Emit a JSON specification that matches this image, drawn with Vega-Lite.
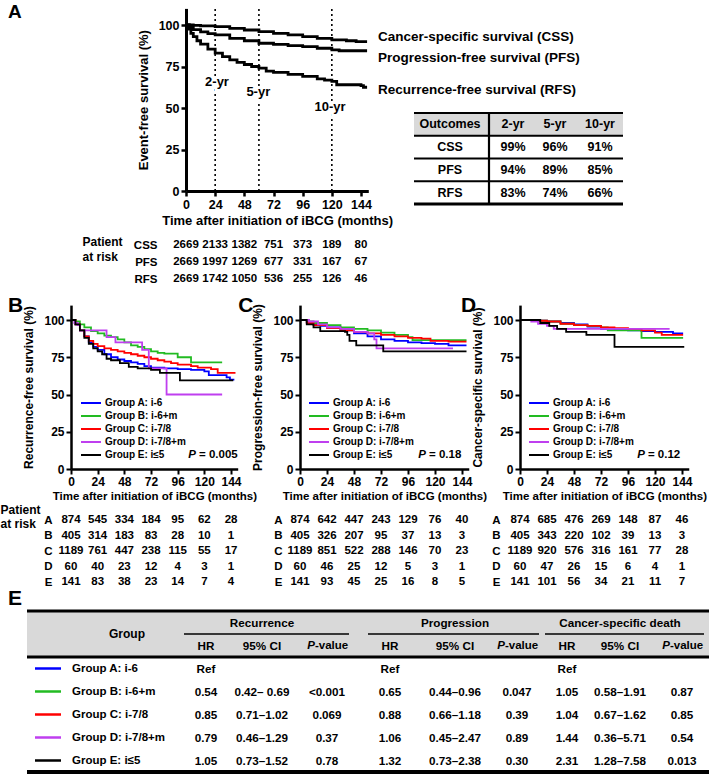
{
"$schema":"https://vega.github.io/schema/vega-lite/v6.json",
"width":709,"height":774,"autosize":{"type":"none"},"padding":0,"background":"white",
"config":{
 "view":{"stroke":null},
 "font":"Liberation Sans",
 "axis":{"labelFont":"Liberation Sans","titleFont":"Liberation Sans","labelFontWeight":"bold","titleFontWeight":"bold","labelColor":"black","titleColor":"black","domainColor":"black","tickColor":"black","grid":false,"labelOverlap":false,"labelFlush":false},
 "legend":{"labelFont":"Liberation Sans","labelFontWeight":"bold","labelColor":"black"},
 "text":{"font":"Liberation Sans","fontWeight":"bold","color":"black","fontSize":11.5},
 "rule":{"color":"black"}
},
"datasets":{
"km":[
{"p":"A","g":"CSS","m":0,"s":100},{"p":"A","g":"CSS","m":6,"s":99.8},{"p":"A","g":"CSS","m":12,"s":99.5},{"p":"A","g":"CSS","m":24,"s":99},{"p":"A","g":"CSS","m":36,"s":98},{"p":"A","g":"CSS","m":48,"s":97},{"p":"A","g":"CSS","m":60,"s":96},{"p":"A","g":"CSS","m":72,"s":95},{"p":"A","g":"CSS","m":84,"s":94},{"p":"A","g":"CSS","m":96,"s":93},{"p":"A","g":"CSS","m":108,"s":92},{"p":"A","g":"CSS","m":120,"s":91},{"p":"A","g":"CSS","m":132,"s":90.5},{"p":"A","g":"CSS","m":140,"s":90},{"p":"A","g":"CSS","m":149,"s":90},
{"p":"A","g":"PFS","m":0,"s":100},{"p":"A","g":"PFS","m":3,"s":98.5},{"p":"A","g":"PFS","m":6,"s":97.2},{"p":"A","g":"PFS","m":12,"s":95.8},{"p":"A","g":"PFS","m":18,"s":94.8},{"p":"A","g":"PFS","m":24,"s":94},{"p":"A","g":"PFS","m":36,"s":92},{"p":"A","g":"PFS","m":48,"s":90.5},{"p":"A","g":"PFS","m":60,"s":89},{"p":"A","g":"PFS","m":72,"s":88.3},{"p":"A","g":"PFS","m":84,"s":87.6},{"p":"A","g":"PFS","m":96,"s":87},{"p":"A","g":"PFS","m":108,"s":86},{"p":"A","g":"PFS","m":120,"s":85},{"p":"A","g":"PFS","m":126,"s":84.5},{"p":"A","g":"PFS","m":149,"s":84.5},
{"p":"A","g":"RFS","m":0,"s":100},{"p":"A","g":"RFS","m":2,"s":97.5},{"p":"A","g":"RFS","m":4,"s":95},{"p":"A","g":"RFS","m":6,"s":93},{"p":"A","g":"RFS","m":9,"s":90.5},{"p":"A","g":"RFS","m":12,"s":88.5},{"p":"A","g":"RFS","m":18,"s":85.5},{"p":"A","g":"RFS","m":24,"s":83},{"p":"A","g":"RFS","m":30,"s":81},{"p":"A","g":"RFS","m":36,"s":79},{"p":"A","g":"RFS","m":42,"s":77.5},{"p":"A","g":"RFS","m":48,"s":76.2},{"p":"A","g":"RFS","m":54,"s":75},{"p":"A","g":"RFS","m":60,"s":74},{"p":"A","g":"RFS","m":66,"s":72.2},{"p":"A","g":"RFS","m":72,"s":71.5},{"p":"A","g":"RFS","m":84,"s":70.2},{"p":"A","g":"RFS","m":96,"s":69},{"p":"A","g":"RFS","m":108,"s":67.5},{"p":"A","g":"RFS","m":114,"s":66.8},{"p":"A","g":"RFS","m":120,"s":66},{"p":"A","g":"RFS","m":124,"s":64},{"p":"A","g":"RFS","m":144,"s":63.5},{"p":"A","g":"RFS","m":146,"s":62.5},{"p":"A","g":"RFS","m":149,"s":62.5},

{"p":"B","g":"Group A: i-6","m":0,"s":100},{"p":"B","g":"Group A: i-6","m":4,"s":97},{"p":"B","g":"Group A: i-6","m":8,"s":93},{"p":"B","g":"Group A: i-6","m":12,"s":89},{"p":"B","g":"Group A: i-6","m":16,"s":85},{"p":"B","g":"Group A: i-6","m":20,"s":82},{"p":"B","g":"Group A: i-6","m":24,"s":80},{"p":"B","g":"Group A: i-6","m":30,"s":77},{"p":"B","g":"Group A: i-6","m":36,"s":75},{"p":"B","g":"Group A: i-6","m":42,"s":73.5},{"p":"B","g":"Group A: i-6","m":48,"s":72.5},{"p":"B","g":"Group A: i-6","m":54,"s":71.5},{"p":"B","g":"Group A: i-6","m":60,"s":70.5},{"p":"B","g":"Group A: i-6","m":66,"s":69},{"p":"B","g":"Group A: i-6","m":72,"s":68},{"p":"B","g":"Group A: i-6","m":84,"s":67.5},{"p":"B","g":"Group A: i-6","m":96,"s":67},{"p":"B","g":"Group A: i-6","m":108,"s":66.5},{"p":"B","g":"Group A: i-6","m":120,"s":65.5},{"p":"B","g":"Group A: i-6","m":124,"s":63},{"p":"B","g":"Group A: i-6","m":140,"s":61.5},{"p":"B","g":"Group A: i-6","m":143,"s":60},{"p":"B","g":"Group A: i-6","m":147,"s":60},
{"p":"B","g":"Group B: i-6+m","m":0,"s":100},{"p":"B","g":"Group B: i-6+m","m":4,"s":99},{"p":"B","g":"Group B: i-6+m","m":8,"s":97},{"p":"B","g":"Group B: i-6+m","m":12,"s":95},{"p":"B","g":"Group B: i-6+m","m":18,"s":92.5},{"p":"B","g":"Group B: i-6+m","m":24,"s":91},{"p":"B","g":"Group B: i-6+m","m":30,"s":89.5},{"p":"B","g":"Group B: i-6+m","m":36,"s":88.5},{"p":"B","g":"Group B: i-6+m","m":42,"s":87},{"p":"B","g":"Group B: i-6+m","m":48,"s":85},{"p":"B","g":"Group B: i-6+m","m":54,"s":83},{"p":"B","g":"Group B: i-6+m","m":60,"s":82},{"p":"B","g":"Group B: i-6+m","m":66,"s":80.5},{"p":"B","g":"Group B: i-6+m","m":72,"s":79},{"p":"B","g":"Group B: i-6+m","m":78,"s":78},{"p":"B","g":"Group B: i-6+m","m":84,"s":77.5},{"p":"B","g":"Group B: i-6+m","m":96,"s":75},{"p":"B","g":"Group B: i-6+m","m":108,"s":71.5},{"p":"B","g":"Group B: i-6+m","m":136,"s":71.5},
{"p":"B","g":"Group C: i-7/8","m":0,"s":100},{"p":"B","g":"Group C: i-7/8","m":4,"s":97},{"p":"B","g":"Group C: i-7/8","m":8,"s":93},{"p":"B","g":"Group C: i-7/8","m":12,"s":89},{"p":"B","g":"Group C: i-7/8","m":16,"s":86},{"p":"B","g":"Group C: i-7/8","m":20,"s":84},{"p":"B","g":"Group C: i-7/8","m":24,"s":82.5},{"p":"B","g":"Group C: i-7/8","m":30,"s":81},{"p":"B","g":"Group C: i-7/8","m":36,"s":80},{"p":"B","g":"Group C: i-7/8","m":42,"s":79},{"p":"B","g":"Group C: i-7/8","m":48,"s":78},{"p":"B","g":"Group C: i-7/8","m":54,"s":77},{"p":"B","g":"Group C: i-7/8","m":60,"s":76},{"p":"B","g":"Group C: i-7/8","m":66,"s":75},{"p":"B","g":"Group C: i-7/8","m":72,"s":74},{"p":"B","g":"Group C: i-7/8","m":78,"s":73},{"p":"B","g":"Group C: i-7/8","m":84,"s":72},{"p":"B","g":"Group C: i-7/8","m":90,"s":71},{"p":"B","g":"Group C: i-7/8","m":96,"s":70},{"p":"B","g":"Group C: i-7/8","m":108,"s":69},{"p":"B","g":"Group C: i-7/8","m":114,"s":68},{"p":"B","g":"Group C: i-7/8","m":126,"s":67},{"p":"B","g":"Group C: i-7/8","m":132,"s":64.5},{"p":"B","g":"Group C: i-7/8","m":148,"s":64.5},
{"p":"B","g":"Group D: i-7/8+m","m":0,"s":100},{"p":"B","g":"Group D: i-7/8+m","m":3,"s":98},{"p":"B","g":"Group D: i-7/8+m","m":6,"s":96.5},{"p":"B","g":"Group D: i-7/8+m","m":8,"s":93},{"p":"B","g":"Group D: i-7/8+m","m":32,"s":88.5},{"p":"B","g":"Group D: i-7/8+m","m":40,"s":85},{"p":"B","g":"Group D: i-7/8+m","m":64,"s":80},{"p":"B","g":"Group D: i-7/8+m","m":70,"s":67.5},{"p":"B","g":"Group D: i-7/8+m","m":86,"s":50},{"p":"B","g":"Group D: i-7/8+m","m":136,"s":50},
{"p":"B","g":"Group E: i≤5","m":0,"s":100},{"p":"B","g":"Group E: i≤5","m":4,"s":97},{"p":"B","g":"Group E: i≤5","m":8,"s":93},{"p":"B","g":"Group E: i≤5","m":12,"s":88},{"p":"B","g":"Group E: i≤5","m":16,"s":84},{"p":"B","g":"Group E: i≤5","m":20,"s":81},{"p":"B","g":"Group E: i≤5","m":24,"s":79},{"p":"B","g":"Group E: i≤5","m":28,"s":77},{"p":"B","g":"Group E: i≤5","m":32,"s":74},{"p":"B","g":"Group E: i≤5","m":36,"s":73},{"p":"B","g":"Group E: i≤5","m":44,"s":71},{"p":"B","g":"Group E: i≤5","m":52,"s":68.5},{"p":"B","g":"Group E: i≤5","m":60,"s":67.5},{"p":"B","g":"Group E: i≤5","m":72,"s":66.5},{"p":"B","g":"Group E: i≤5","m":80,"s":64.5},{"p":"B","g":"Group E: i≤5","m":98,"s":59.5},{"p":"B","g":"Group E: i≤5","m":146,"s":59.5},

{"p":"C","g":"Group A: i-6","m":0,"s":100},{"p":"C","g":"Group A: i-6","m":6,"s":98.5},{"p":"C","g":"Group A: i-6","m":12,"s":97},{"p":"C","g":"Group A: i-6","m":18,"s":96},{"p":"C","g":"Group A: i-6","m":24,"s":95},{"p":"C","g":"Group A: i-6","m":36,"s":93},{"p":"C","g":"Group A: i-6","m":48,"s":91},{"p":"C","g":"Group A: i-6","m":60,"s":89},{"p":"C","g":"Group A: i-6","m":72,"s":87},{"p":"C","g":"Group A: i-6","m":84,"s":86},{"p":"C","g":"Group A: i-6","m":96,"s":85},{"p":"C","g":"Group A: i-6","m":108,"s":84.5},{"p":"C","g":"Group A: i-6","m":120,"s":84},{"p":"C","g":"Group A: i-6","m":132,"s":83},{"p":"C","g":"Group A: i-6","m":148,"s":83},
{"p":"C","g":"Group B: i-6+m","m":0,"s":100},{"p":"C","g":"Group B: i-6+m","m":6,"s":99},{"p":"C","g":"Group B: i-6+m","m":12,"s":98},{"p":"C","g":"Group B: i-6+m","m":24,"s":96.5},{"p":"C","g":"Group B: i-6+m","m":36,"s":95},{"p":"C","g":"Group B: i-6+m","m":48,"s":94},{"p":"C","g":"Group B: i-6+m","m":60,"s":93},{"p":"C","g":"Group B: i-6+m","m":72,"s":91.5},{"p":"C","g":"Group B: i-6+m","m":84,"s":90},{"p":"C","g":"Group B: i-6+m","m":96,"s":88.5},{"p":"C","g":"Group B: i-6+m","m":100,"s":86.5},{"p":"C","g":"Group B: i-6+m","m":148,"s":86.5},
{"p":"C","g":"Group C: i-7/8","m":0,"s":100},{"p":"C","g":"Group C: i-7/8","m":6,"s":98},{"p":"C","g":"Group C: i-7/8","m":12,"s":96.5},{"p":"C","g":"Group C: i-7/8","m":24,"s":94.5},{"p":"C","g":"Group C: i-7/8","m":36,"s":93},{"p":"C","g":"Group C: i-7/8","m":48,"s":92},{"p":"C","g":"Group C: i-7/8","m":60,"s":91},{"p":"C","g":"Group C: i-7/8","m":72,"s":90},{"p":"C","g":"Group C: i-7/8","m":84,"s":89},{"p":"C","g":"Group C: i-7/8","m":96,"s":88},{"p":"C","g":"Group C: i-7/8","m":108,"s":87.5},{"p":"C","g":"Group C: i-7/8","m":116,"s":86},{"p":"C","g":"Group C: i-7/8","m":132,"s":85.5},{"p":"C","g":"Group C: i-7/8","m":148,"s":85.5},
{"p":"C","g":"Group D: i-7/8+m","m":0,"s":100},{"p":"C","g":"Group D: i-7/8+m","m":8,"s":99},{"p":"C","g":"Group D: i-7/8+m","m":16,"s":97},{"p":"C","g":"Group D: i-7/8+m","m":24,"s":95},{"p":"C","g":"Group D: i-7/8+m","m":36,"s":94},{"p":"C","g":"Group D: i-7/8+m","m":48,"s":92},{"p":"C","g":"Group D: i-7/8+m","m":60,"s":91},{"p":"C","g":"Group D: i-7/8+m","m":66,"s":87},{"p":"C","g":"Group D: i-7/8+m","m":68,"s":81},{"p":"C","g":"Group D: i-7/8+m","m":136,"s":81},
{"p":"C","g":"Group E: i≤5","m":0,"s":100},{"p":"C","g":"Group E: i≤5","m":6,"s":97},{"p":"C","g":"Group E: i≤5","m":12,"s":95},{"p":"C","g":"Group E: i≤5","m":18,"s":92.5},{"p":"C","g":"Group E: i≤5","m":40,"s":92},{"p":"C","g":"Group E: i≤5","m":42,"s":90},{"p":"C","g":"Group E: i≤5","m":44,"s":86},{"p":"C","g":"Group E: i≤5","m":50,"s":83},{"p":"C","g":"Group E: i≤5","m":74,"s":79},{"p":"C","g":"Group E: i≤5","m":148,"s":79},

{"p":"D","g":"Group A: i-6","m":0,"s":100},{"p":"D","g":"Group A: i-6","m":12,"s":99.5},{"p":"D","g":"Group A: i-6","m":24,"s":99},{"p":"D","g":"Group A: i-6","m":36,"s":98},{"p":"D","g":"Group A: i-6","m":48,"s":97},{"p":"D","g":"Group A: i-6","m":60,"s":95.5},{"p":"D","g":"Group A: i-6","m":72,"s":94},{"p":"D","g":"Group A: i-6","m":84,"s":93.5},{"p":"D","g":"Group A: i-6","m":96,"s":93},{"p":"D","g":"Group A: i-6","m":108,"s":92.5},{"p":"D","g":"Group A: i-6","m":120,"s":92},{"p":"D","g":"Group A: i-6","m":136,"s":91},{"p":"D","g":"Group A: i-6","m":145,"s":91},
{"p":"D","g":"Group B: i-6+m","m":0,"s":100},{"p":"D","g":"Group B: i-6+m","m":12,"s":99.5},{"p":"D","g":"Group B: i-6+m","m":24,"s":99},{"p":"D","g":"Group B: i-6+m","m":36,"s":97.5},{"p":"D","g":"Group B: i-6+m","m":48,"s":96.5},{"p":"D","g":"Group B: i-6+m","m":60,"s":96},{"p":"D","g":"Group B: i-6+m","m":72,"s":95},{"p":"D","g":"Group B: i-6+m","m":78,"s":93},{"p":"D","g":"Group B: i-6+m","m":108,"s":88},{"p":"D","g":"Group B: i-6+m","m":145,"s":88},
{"p":"D","g":"Group C: i-7/8","m":0,"s":100},{"p":"D","g":"Group C: i-7/8","m":12,"s":99.5},{"p":"D","g":"Group C: i-7/8","m":24,"s":99},{"p":"D","g":"Group C: i-7/8","m":36,"s":97.5},{"p":"D","g":"Group C: i-7/8","m":48,"s":96.5},{"p":"D","g":"Group C: i-7/8","m":60,"s":96},{"p":"D","g":"Group C: i-7/8","m":72,"s":95},{"p":"D","g":"Group C: i-7/8","m":84,"s":94.5},{"p":"D","g":"Group C: i-7/8","m":96,"s":94},{"p":"D","g":"Group C: i-7/8","m":108,"s":93},{"p":"D","g":"Group C: i-7/8","m":120,"s":91.5},{"p":"D","g":"Group C: i-7/8","m":126,"s":90},{"p":"D","g":"Group C: i-7/8","m":145,"s":90},
{"p":"D","g":"Group D: i-7/8+m","m":0,"s":100},{"p":"D","g":"Group D: i-7/8+m","m":10,"s":99},{"p":"D","g":"Group D: i-7/8+m","m":16,"s":97.5},{"p":"D","g":"Group D: i-7/8+m","m":24,"s":96},{"p":"D","g":"Group D: i-7/8+m","m":30,"s":94},{"p":"D","g":"Group D: i-7/8+m","m":133,"s":94},
{"p":"D","g":"Group E: i≤5","m":0,"s":100},{"p":"D","g":"Group E: i≤5","m":18,"s":98},{"p":"D","g":"Group E: i≤5","m":26,"s":96},{"p":"D","g":"Group E: i≤5","m":33,"s":94},{"p":"D","g":"Group E: i≤5","m":41,"s":92},{"p":"D","g":"Group E: i≤5","m":59,"s":90},{"p":"D","g":"Group E: i≤5","m":84,"s":82},{"p":"D","g":"Group E: i≤5","m":146,"s":82}
],
"risk":[
{"p":"A","r":"CSS","m":0,"n":2669},{"p":"A","r":"CSS","m":24,"n":2133},{"p":"A","r":"CSS","m":48,"n":1382},{"p":"A","r":"CSS","m":72,"n":751},{"p":"A","r":"CSS","m":96,"n":373},{"p":"A","r":"CSS","m":120,"n":189},{"p":"A","r":"CSS","m":144,"n":80},
{"p":"A","r":"PFS","m":0,"n":2669},{"p":"A","r":"PFS","m":24,"n":1997},{"p":"A","r":"PFS","m":48,"n":1269},{"p":"A","r":"PFS","m":72,"n":677},{"p":"A","r":"PFS","m":96,"n":331},{"p":"A","r":"PFS","m":120,"n":167},{"p":"A","r":"PFS","m":144,"n":67},
{"p":"A","r":"RFS","m":0,"n":2669},{"p":"A","r":"RFS","m":24,"n":1742},{"p":"A","r":"RFS","m":48,"n":1050},{"p":"A","r":"RFS","m":72,"n":536},{"p":"A","r":"RFS","m":96,"n":255},{"p":"A","r":"RFS","m":120,"n":126},{"p":"A","r":"RFS","m":144,"n":46},
{"p":"B","r":"A","m":0,"n":874},{"p":"B","r":"A","m":24,"n":545},{"p":"B","r":"A","m":48,"n":334},{"p":"B","r":"A","m":72,"n":184},{"p":"B","r":"A","m":96,"n":95},{"p":"B","r":"A","m":120,"n":62},{"p":"B","r":"A","m":144,"n":28},
{"p":"B","r":"B","m":0,"n":405},{"p":"B","r":"B","m":24,"n":314},{"p":"B","r":"B","m":48,"n":183},{"p":"B","r":"B","m":72,"n":83},{"p":"B","r":"B","m":96,"n":28},{"p":"B","r":"B","m":120,"n":10},{"p":"B","r":"B","m":144,"n":1},
{"p":"B","r":"C","m":0,"n":1189},{"p":"B","r":"C","m":24,"n":761},{"p":"B","r":"C","m":48,"n":447},{"p":"B","r":"C","m":72,"n":238},{"p":"B","r":"C","m":96,"n":115},{"p":"B","r":"C","m":120,"n":55},{"p":"B","r":"C","m":144,"n":17},
{"p":"B","r":"D","m":0,"n":60},{"p":"B","r":"D","m":24,"n":40},{"p":"B","r":"D","m":48,"n":23},{"p":"B","r":"D","m":72,"n":12},{"p":"B","r":"D","m":96,"n":4},{"p":"B","r":"D","m":120,"n":3},{"p":"B","r":"D","m":144,"n":1},
{"p":"B","r":"E","m":0,"n":141},{"p":"B","r":"E","m":24,"n":83},{"p":"B","r":"E","m":48,"n":38},{"p":"B","r":"E","m":72,"n":23},{"p":"B","r":"E","m":96,"n":14},{"p":"B","r":"E","m":120,"n":7},{"p":"B","r":"E","m":144,"n":4},
{"p":"C","r":"A","m":0,"n":874},{"p":"C","r":"A","m":24,"n":642},{"p":"C","r":"A","m":48,"n":447},{"p":"C","r":"A","m":72,"n":243},{"p":"C","r":"A","m":96,"n":129},{"p":"C","r":"A","m":120,"n":76},{"p":"C","r":"A","m":144,"n":40},
{"p":"C","r":"B","m":0,"n":405},{"p":"C","r":"B","m":24,"n":326},{"p":"C","r":"B","m":48,"n":207},{"p":"C","r":"B","m":72,"n":95},{"p":"C","r":"B","m":96,"n":37},{"p":"C","r":"B","m":120,"n":13},{"p":"C","r":"B","m":144,"n":3},
{"p":"C","r":"C","m":0,"n":1189},{"p":"C","r":"C","m":24,"n":851},{"p":"C","r":"C","m":48,"n":522},{"p":"C","r":"C","m":72,"n":288},{"p":"C","r":"C","m":96,"n":146},{"p":"C","r":"C","m":120,"n":70},{"p":"C","r":"C","m":144,"n":23},
{"p":"C","r":"D","m":0,"n":60},{"p":"C","r":"D","m":24,"n":46},{"p":"C","r":"D","m":48,"n":25},{"p":"C","r":"D","m":72,"n":12},{"p":"C","r":"D","m":96,"n":5},{"p":"C","r":"D","m":120,"n":3},{"p":"C","r":"D","m":144,"n":1},
{"p":"C","r":"E","m":0,"n":141},{"p":"C","r":"E","m":24,"n":93},{"p":"C","r":"E","m":48,"n":45},{"p":"C","r":"E","m":72,"n":25},{"p":"C","r":"E","m":96,"n":16},{"p":"C","r":"E","m":120,"n":8},{"p":"C","r":"E","m":144,"n":5},
{"p":"D","r":"A","m":0,"n":874},{"p":"D","r":"A","m":24,"n":685},{"p":"D","r":"A","m":48,"n":476},{"p":"D","r":"A","m":72,"n":269},{"p":"D","r":"A","m":96,"n":148},{"p":"D","r":"A","m":120,"n":87},{"p":"D","r":"A","m":144,"n":46},
{"p":"D","r":"B","m":0,"n":405},{"p":"D","r":"B","m":24,"n":343},{"p":"D","r":"B","m":48,"n":220},{"p":"D","r":"B","m":72,"n":102},{"p":"D","r":"B","m":96,"n":39},{"p":"D","r":"B","m":120,"n":13},{"p":"D","r":"B","m":144,"n":3},
{"p":"D","r":"C","m":0,"n":1189},{"p":"D","r":"C","m":24,"n":920},{"p":"D","r":"C","m":48,"n":576},{"p":"D","r":"C","m":72,"n":316},{"p":"D","r":"C","m":96,"n":161},{"p":"D","r":"C","m":120,"n":77},{"p":"D","r":"C","m":144,"n":28},
{"p":"D","r":"D","m":0,"n":60},{"p":"D","r":"D","m":24,"n":47},{"p":"D","r":"D","m":48,"n":26},{"p":"D","r":"D","m":72,"n":15},{"p":"D","r":"D","m":96,"n":6},{"p":"D","r":"D","m":120,"n":4},{"p":"D","r":"D","m":144,"n":1},
{"p":"D","r":"E","m":0,"n":141},{"p":"D","r":"E","m":24,"n":101},{"p":"D","r":"E","m":48,"n":56},{"p":"D","r":"E","m":72,"n":34},{"p":"D","r":"E","m":96,"n":21},{"p":"D","r":"E","m":120,"n":11},{"p":"D","r":"E","m":144,"n":7}
],
"ta":[
{"r":"Outcomes","c":0,"v":"Outcomes"},{"r":"Outcomes","c":1,"v":"2-yr"},{"r":"Outcomes","c":2,"v":"5-yr"},{"r":"Outcomes","c":3,"v":"10-yr"},
{"r":"CSS","c":0,"v":"CSS"},{"r":"CSS","c":1,"v":"99%"},{"r":"CSS","c":2,"v":"96%"},{"r":"CSS","c":3,"v":"91%"},
{"r":"PFS","c":0,"v":"PFS"},{"r":"PFS","c":1,"v":"94%"},{"r":"PFS","c":2,"v":"89%"},{"r":"PFS","c":3,"v":"85%"},
{"r":"RFS","c":0,"v":"RFS"},{"r":"RFS","c":1,"v":"83%"},{"r":"RFS","c":2,"v":"74%"},{"r":"RFS","c":3,"v":"66%"}
],
"te":[
{"r":"h1","c":5,"v":"Recurrence"},{"r":"h1","c":8,"v":"Progression"},{"r":"h1","c":11,"v":"Cancer-specific death"},
{"r":"h2","c":4,"v":"HR"},{"r":"h2","c":5,"v":"95% CI"},{"r":"h2","c":7,"v":"HR"},{"r":"h2","c":8,"v":"95% CI"},{"r":"h2","c":10,"v":"HR"},{"r":"h2","c":11,"v":"95% CI"},
{"r":"A","c":4,"v":"Ref"},{"r":"A","c":7,"v":"Ref"},{"r":"A","c":10,"v":"Ref"},
{"r":"B","c":4,"v":"0.54"},{"r":"B","c":5,"v":"0.42– 0.69"},{"r":"B","c":6,"v":"<0.001"},{"r":"B","c":7,"v":"0.65"},{"r":"B","c":8,"v":"0.44–0.96"},{"r":"B","c":9,"v":"0.047"},{"r":"B","c":10,"v":"1.05"},{"r":"B","c":11,"v":"0.58–1.91"},{"r":"B","c":12,"v":"0.87"},
{"r":"C","c":4,"v":"0.85"},{"r":"C","c":5,"v":"0.71–1.02"},{"r":"C","c":6,"v":"0.069"},{"r":"C","c":7,"v":"0.88"},{"r":"C","c":8,"v":"0.66–1.18"},{"r":"C","c":9,"v":"0.39"},{"r":"C","c":10,"v":"1.04"},{"r":"C","c":11,"v":"0.67–1.62"},{"r":"C","c":12,"v":"0.85"},
{"r":"D","c":4,"v":"0.79"},{"r":"D","c":5,"v":"0.46–1.29"},{"r":"D","c":6,"v":"0.37"},{"r":"D","c":7,"v":"1.06"},{"r":"D","c":8,"v":"0.45–2.47"},{"r":"D","c":9,"v":"0.89"},{"r":"D","c":10,"v":"1.44"},{"r":"D","c":11,"v":"0.36–5.71"},{"r":"D","c":12,"v":"0.54"},
{"r":"E","c":4,"v":"1.05"},{"r":"E","c":5,"v":"0.73–1.52"},{"r":"E","c":6,"v":"0.78"},{"r":"E","c":7,"v":"1.32"},{"r":"E","c":8,"v":"0.73–2.38"},{"r":"E","c":9,"v":"0.30"},{"r":"E","c":10,"v":"2.31"},{"r":"E","c":11,"v":"1.28–7.58"},{"r":"E","c":12,"v":"0.013"}
],
"teg":[
{"r":"A","g":"Group A: i-6"},{"r":"B","g":"Group B: i-6+m"},{"r":"C","g":"Group C: i-7/8"},{"r":"D","g":"Group D: i-7/8+m"},{"r":"E","g":"Group E: i≤5"}
]
},
"layer":[
{"layer":[
 {"data":{"values":[{"m":24},{"m":60},{"m":120}]},
  "mark":{"type":"rule","strokeDash":[2,3],"strokeWidth":1.6},
  "encoding":{"x":{"field":"m","type":"quantitative","scale":{"domain":[0,150],"range":[186,368.3],"nice":false},"axis":null},
   "y":{"datum":0,"type":"quantitative","scale":{"domain":[0,110],"range":[191,8.4],"nice":false},"axis":null},
   "y2":{"datum":110}}},
 {"data":{"values":[{}]},"mark":{"type":"text","text":"Cancer-specific survival (CSS)","align":"left","fontSize":13.5},
  "encoding":{"x":{"datum":158,"type":"quantitative","axis":null},"y":{"datum":92.8,"type":"quantitative","axis":null}}},
 {"data":{"values":[{}]},"mark":{"type":"text","text":"Progression-free survival (PFS)","align":"left","fontSize":13.5},
  "encoding":{"x":{"datum":158,"type":"quantitative","axis":null},"y":{"datum":80,"type":"quantitative","axis":null}}},
 {"data":{"values":[{}]},"mark":{"type":"text","text":"Recurrence-free survival (RFS)","align":"left","fontSize":13.5},
  "encoding":{"x":{"datum":158,"type":"quantitative","axis":null},"y":{"datum":60.8,"type":"quantitative","axis":null}}},
 {"data":{"values":[{}]},"encoding":{"x":{"datum":25.5,"type":"quantitative","axis":null},"y":{"datum":65.7,"type":"quantitative","axis":null}},
  "layer":[{"mark":{"type":"text","text":"2-yr","fontSize":13,"color":"white","stroke":"white","strokeWidth":6}},{"mark":{"type":"text","text":"2-yr","fontSize":13}}]},
 {"data":{"values":[{}]},"encoding":{"x":{"datum":59.5,"type":"quantitative","axis":null},"y":{"datum":59.6,"type":"quantitative","axis":null}},
  "layer":[{"mark":{"type":"text","text":"5-yr","fontSize":13,"color":"white","stroke":"white","strokeWidth":6}},{"mark":{"type":"text","text":"5-yr","fontSize":13}}]},
 {"data":{"values":[{}]},"encoding":{"x":{"datum":118.5,"type":"quantitative","axis":null},"y":{"datum":50.6,"type":"quantitative","axis":null}},
  "layer":[{"mark":{"type":"text","text":"10-yr","fontSize":13,"color":"white","stroke":"white","strokeWidth":6}},{"mark":{"type":"text","text":"10-yr","fontSize":13}}]},
 {"data":{"values":[{}]},"mark":{"type":"text","text":"A","align":"left","baseline":"alphabetic","fontSize":19},
  "encoding":{"x":{"datum":-146.5,"type":"quantitative","axis":null},"y":{"datum":104.3,"type":"quantitative","axis":null}}}
]},
{"data":{"name":"km"},"transform":[{"filter":"datum.p==='A'"}],
 "mark":{"type":"line","interpolate":"step-after","strokeWidth":2.8,"color":"black"},
 "encoding":{
  "x":{"field":"m","type":"quantitative","scale":{"domain":[0,150],"range":[186,368.3],"nice":false},
    "axis":{"orient":"bottom","offset":-583,"values":[0,24,48,72,96,120,144],"title":"Time after initiation of iBCG (months)","titleFontSize":13,"labelFontSize":12.5,"domainWidth":3,"tickWidth":2.5,"tickSize":5,"labelPadding":2,"titlePadding":4}},
  "y":{"field":"s","type":"quantitative","scale":{"domain":[0,110],"range":[191,8.4],"nice":false},
    "axis":{"orient":"left","offset":-186,"values":[0,25,50,75,100],"title":"Event-free survival (%)","titleFontSize":13,"labelFontSize":12.5,"domainWidth":3,"tickWidth":2.5,"tickSize":5,"labelPadding":2,"titlePadding":8}},
  "detail":{"field":"g","type":"nominal"}}},
{"layer":[
 {"data":{"values":[{"r":"Outcomes"}]},"mark":{"type":"rect","color":"#d9d9d9"},
  "encoding":{"x":{"datum":-0.5,"type":"quantitative","scale":{"domain":[-0.5,0,0.5,1,2,3,3.5],"range":[414,450,489,513,555,600,623],"nice":false,"zero":false},"axis":null},"x2":{"datum":3.5},
   "y":{"field":"r","type":"nominal","scale":{"domain":["Outcomes","CSS","PFS","RFS"],"range":[113,204],"paddingInner":0,"paddingOuter":0},"axis":null}}},
 {"data":{"values":[{"r":"Outcomes"},{"r":"CSS"},{"r":"PFS"},{"r":"RFS"}]},"mark":{"type":"rule","strokeWidth":2.2},
  "encoding":{"x":{"datum":-0.5,"type":"quantitative","axis":null},"x2":{"datum":3.5},"y":{"field":"r","type":"nominal","bandPosition":0,"axis":null}}},
 {"data":{"values":[{}]},"mark":{"type":"rule","strokeWidth":2.8},
  "encoding":{"x":{"datum":-0.5,"type":"quantitative","axis":null},"x2":{"datum":3.5},"y":{"datum":"RFS","type":"nominal","bandPosition":1,"axis":null}}},
 {"data":{"values":[{}]},"mark":{"type":"rule","strokeWidth":2.2},
  "encoding":{"x":{"datum":0.5,"type":"quantitative","axis":null},"y":{"datum":"Outcomes","type":"nominal","bandPosition":0,"axis":null},"y2":{"datum":"RFS","bandPosition":1}}},
 {"data":{"name":"ta"},"mark":{"type":"text","fontSize":12.5},
  "encoding":{"x":{"field":"c","type":"quantitative","axis":null},"y":{"field":"r","type":"nominal","axis":null},"text":{"field":"v","type":"nominal"}}}
]},
{"data":{"name":"risk"},"transform":[{"filter":"datum.p==='A'"}],"mark":{"type":"text","fontSize":11.5},
 "encoding":{"x":{"field":"m","type":"quantitative","scale":{"domain":[0,150],"range":[186,368.3],"nice":false},"axis":null},
  "y":{"field":"r","type":"nominal","scale":{"domain":["CSS","PFS","RFS"],"range":[236.5,287.5],"paddingInner":0,"paddingOuter":0},
   "axis":{"orient":"left","offset":-186,"domain":false,"ticks":false,"labelPadding":29,"labelFontSize":11.5,"title":["Patient","at risk"],"titleAngle":0,"titleAlign":"left","titleBaseline":"top","titleX":-104,"titleY":236,"titleFontSize":12,"titleLineHeight":15}},
  "text":{"field":"n","type":"nominal"}}},
{"data":{"name":"km"},"transform":[{"filter":"datum.p==='B'"}],
 "mark":{"type":"line","interpolate":"step-after","strokeWidth":1.8},
 "encoding":{
  "x":{"field":"m","type":"quantitative","scale":{"domain":[0,150],"range":[71,237.7],"nice":false},
    "axis":{"orient":"bottom","offset":-305,"values":[0,24,48,72,96,120,144],"title":"Time after initiation of iBCG (months)","titleFontSize":11.5,"labelFontSize":12,"domainWidth":2.5,"tickWidth":2,"tickSize":5,"labelPadding":2,"titlePadding":3}},
  "y":{"field":"s","type":"quantitative","scale":{"domain":[0,110],"range":[469,305.1],"nice":false},
    "axis":{"orient":"left","offset":-71,"values":[0,25,50,75,100],"title":"Recurrence-free survival (%)","titleFontSize":12,"labelFontSize":12,"domainWidth":2.5,"tickWidth":2,"tickSize":5,"labelPadding":2,"titlePadding":8}},
  "color":{"field":"g","type":"nominal","scale":{"domain":["Group A: i-6","Group B: i-6+m","Group C: i-7/8","Group D: i-7/8+m","Group E: i≤5"],"range":["#0000ff","#22bb22","#ff0000","#bf3fef","#000000"]},
    "legend":{"orient":"none","legendX":80,"legendY":396.5,"direction":"vertical","title":null,"symbolType":"stroke","symbolSize":400,"symbolStrokeWidth":2,"clipHeight":13,"rowPadding":0,"labelFontSize":10,"labelOffset":3,"padding":0,"labelLimit":300}}}},
{"layer":[
 {"data":{"values":[{}]},"mark":{"type":"text","text":"P","align":"right","fontStyle":"italic","fontSize":11.5},
  "encoding":{"x":{"datum":112.5,"type":"quantitative","scale":{"domain":[0,150],"range":[71,237.7],"nice":false},"axis":null},"y":{"datum":9.4,"type":"quantitative","scale":{"domain":[0,110],"range":[469,305.1],"nice":false},"axis":null}}},
 {"data":{"values":[{}]},"mark":{"type":"text","text":"= 0.005","align":"left","dx":3,"fontSize":11.5},
  "encoding":{"x":{"datum":112.5,"type":"quantitative","axis":null},"y":{"datum":9.4,"type":"quantitative","axis":null}}},
 {"data":{"values":[{}]},"mark":{"type":"text","text":"B","align":"left","baseline":"alphabetic","fontSize":21},
  "encoding":{"x":{"datum":-56.7,"type":"quantitative","axis":null},"y":{"datum":105.4,"type":"quantitative","axis":null}}},
 {"data":{"values":[{}]},"mark":{"type":"text","text":"E","align":"left","baseline":"alphabetic","fontSize":21},
  "encoding":{"x":{"datum":-56.7,"type":"quantitative","axis":null},"y":{"datum":-91.3,"type":"quantitative","axis":null}}}
]},
{"data":{"name":"km"},"transform":[{"filter":"datum.p==='C'"}],
 "mark":{"type":"line","interpolate":"step-after","strokeWidth":1.8},
 "encoding":{
  "x":{"field":"m","type":"quantitative","scale":{"domain":[0,150],"range":[300,468.75],"nice":false},
    "axis":{"orient":"bottom","offset":-305,"values":[0,24,48,72,96,120,144],"title":"Time after initiation of iBCG (months)","titleFontSize":11.5,"labelFontSize":12,"domainWidth":2.5,"tickWidth":2,"tickSize":5,"labelPadding":2,"titlePadding":3}},
  "y":{"field":"s","type":"quantitative","scale":{"domain":[0,110],"range":[469,305.1],"nice":false},
    "axis":{"orient":"left","offset":-300,"values":[0,25,50,75,100],"title":"Progression-free survival (%)","titleFontSize":12,"labelFontSize":12,"domainWidth":2.5,"tickWidth":2,"tickSize":5,"labelPadding":2,"titlePadding":8}},
  "color":{"field":"g","type":"nominal","scale":{"domain":["Group A: i-6","Group B: i-6+m","Group C: i-7/8","Group D: i-7/8+m","Group E: i≤5"],"range":["#0000ff","#22bb22","#ff0000","#bf3fef","#000000"]},
    "legend":{"orient":"none","legendX":308,"legendY":396.5,"direction":"vertical","title":null,"symbolType":"stroke","symbolSize":400,"symbolStrokeWidth":2,"clipHeight":13,"rowPadding":0,"labelFontSize":10,"labelOffset":3,"padding":0,"labelLimit":300}}}},
{"layer":[
 {"data":{"values":[{}]},"mark":{"type":"text","text":"P","align":"right","fontStyle":"italic","fontSize":11.5},
  "encoding":{"x":{"datum":112,"type":"quantitative","scale":{"domain":[0,150],"range":[300,468.75],"nice":false},"axis":null},"y":{"datum":9.4,"type":"quantitative","scale":{"domain":[0,110],"range":[469,305.1],"nice":false},"axis":null}}},
 {"data":{"values":[{}]},"mark":{"type":"text","text":"= 0.18","align":"left","dx":3,"fontSize":11.5},
  "encoding":{"x":{"datum":112,"type":"quantitative","axis":null},"y":{"datum":9.4,"type":"quantitative","axis":null}}},
 {"data":{"values":[{}]},"mark":{"type":"text","text":"C","align":"left","baseline":"alphabetic","fontSize":21},
  "encoding":{"x":{"datum":-55,"type":"quantitative","axis":null},"y":{"datum":105.4,"type":"quantitative","axis":null}}}
]},
{"data":{"name":"km"},"transform":[{"filter":"datum.p==='D'"}],
 "mark":{"type":"line","interpolate":"step-after","strokeWidth":1.8},
 "encoding":{
  "x":{"field":"m","type":"quantitative","scale":{"domain":[0,150],"range":[520,688.75],"nice":false},
    "axis":{"orient":"bottom","offset":-305,"values":[0,24,48,72,96,120,144],"title":"Time after initiation of iBCG (months)","titleFontSize":11.5,"labelFontSize":12,"domainWidth":2.5,"tickWidth":2,"tickSize":5,"labelPadding":2,"titlePadding":3}},
  "y":{"field":"s","type":"quantitative","scale":{"domain":[0,110],"range":[469,305.1],"nice":false},
    "axis":{"orient":"left","offset":-520,"values":[0,25,50,75,100],"title":"Cancer-specific survival (%)","titleFontSize":12,"labelFontSize":12,"domainWidth":2.5,"tickWidth":2,"tickSize":5,"labelPadding":2,"titlePadding":8}},
  "color":{"field":"g","type":"nominal","scale":{"domain":["Group A: i-6","Group B: i-6+m","Group C: i-7/8","Group D: i-7/8+m","Group E: i≤5"],"range":["#0000ff","#22bb22","#ff0000","#bf3fef","#000000"]},
    "legend":{"orient":"none","legendX":528,"legendY":396.5,"direction":"vertical","title":null,"symbolType":"stroke","symbolSize":400,"symbolStrokeWidth":2,"clipHeight":13,"rowPadding":0,"labelFontSize":10,"labelOffset":3,"padding":0,"labelLimit":300}}}},
{"layer":[
 {"data":{"values":[{}]},"mark":{"type":"text","text":"P","align":"right","fontStyle":"italic","fontSize":11.5},
  "encoding":{"x":{"datum":111,"type":"quantitative","scale":{"domain":[0,150],"range":[520,688.75],"nice":false},"axis":null},"y":{"datum":9.4,"type":"quantitative","scale":{"domain":[0,110],"range":[469,305.1],"nice":false},"axis":null}}},
 {"data":{"values":[{}]},"mark":{"type":"text","text":"= 0.12","align":"left","dx":3,"fontSize":11.5},
  "encoding":{"x":{"datum":111,"type":"quantitative","axis":null},"y":{"datum":9.4,"type":"quantitative","axis":null}}},
 {"data":{"values":[{}]},"mark":{"type":"text","text":"D","align":"left","baseline":"alphabetic","fontSize":21},
  "encoding":{"x":{"datum":-52.4,"type":"quantitative","axis":null},"y":{"datum":105.4,"type":"quantitative","axis":null}}}
]},
{"data":{"name":"risk"},"transform":[{"filter":"datum.p==='B'"}],"mark":{"type":"text","fontSize":11.5},
 "encoding":{"x":{"field":"m","type":"quantitative","scale":{"domain":[0,150],"range":[71,237.7],"nice":false},"axis":null},
  "y":{"field":"r","type":"nominal","scale":{"domain":["A","B","C","D","E"],"range":[512.25,589.75],"paddingInner":0,"paddingOuter":0},
   "axis":{"orient":"left","offset":-71,"domain":false,"ticks":false,"labelPadding":19,"labelFontSize":11.5,"title":["Patient","at risk"],"titleAngle":0,"titleAlign":"left","titleBaseline":"top","titleX":-71,"titleY":504,"titleFontSize":12,"titleLineHeight":14}},
  "text":{"field":"n","type":"nominal"}}},
{"data":{"name":"risk"},"transform":[{"filter":"datum.p==='C'"}],"mark":{"type":"text","fontSize":11.5},
 "encoding":{"x":{"field":"m","type":"quantitative","scale":{"domain":[0,150],"range":[300,468.75],"nice":false},"axis":null},
  "y":{"field":"r","type":"nominal","scale":{"domain":["A","B","C","D","E"],"range":[512.25,589.75],"paddingInner":0,"paddingOuter":0},
   "axis":{"orient":"left","offset":-300,"domain":false,"ticks":false,"labelPadding":18,"labelFontSize":11.5,"title":null}},
  "text":{"field":"n","type":"nominal"}}},
{"data":{"name":"risk"},"transform":[{"filter":"datum.p==='D'"}],"mark":{"type":"text","fontSize":11.5},
 "encoding":{"x":{"field":"m","type":"quantitative","scale":{"domain":[0,150],"range":[520,688.75],"nice":false},"axis":null},
  "y":{"field":"r","type":"nominal","scale":{"domain":["A","B","C","D","E"],"range":[512.25,589.75],"paddingInner":0,"paddingOuter":0},
   "axis":{"orient":"left","offset":-520,"domain":false,"ticks":false,"labelPadding":20,"labelFontSize":11.5,"title":null}},
  "text":{"field":"n","type":"nominal"}}},
{"layer":[
 {"data":{"values":[{"r":"h1"},{"r":"h2"}]},"mark":{"type":"rect","color":"#d9d9d9"},
  "encoding":{"x":{"datum":0,"type":"quantitative","scale":{"domain":[0,1,2,3,3.5,4,5,6,7,8,9,10,11,12,13],"range":[27,35,61,72,127,206,262,327,390,455,517,567,620,682,709],"nice":false,"zero":false},"axis":null},"x2":{"datum":13},
   "y":{"field":"r","type":"nominal","scale":{"domain":["h1","h2","A","B","C","D","E"],"range":[611,772],"paddingInner":0,"paddingOuter":0},"axis":null}}},
 {"data":{"values":[{}]},"mark":{"type":"rule","strokeWidth":3},
  "encoding":{"x":{"datum":0,"type":"quantitative","axis":null},"x2":{"datum":13},"y":{"datum":"h1","type":"nominal","bandPosition":0,"axis":null}}},
 {"data":{"values":[{}]},"mark":{"type":"rule","strokeWidth":3},
  "encoding":{"x":{"datum":0,"type":"quantitative","axis":null},"x2":{"datum":13},"y":{"datum":"A","type":"nominal","bandPosition":0,"axis":null}}},
 {"data":{"values":[{}]},"mark":{"type":"rule","strokeWidth":4},
  "encoding":{"x":{"datum":0,"type":"quantitative","axis":null},"x2":{"datum":13},"y":{"datum":"E","type":"nominal","bandPosition":1,"axis":null}}},
 {"data":{"values":[{"a":4,"b":6},{"a":7,"b":9},{"a":10,"b":12}]},"mark":{"type":"rule","strokeWidth":1.5,"xOffset":-22,"x2Offset":22},
  "encoding":{"x":{"field":"a","type":"quantitative","axis":null},"x2":{"field":"b"},"y":{"datum":"h2","type":"nominal","bandPosition":0,"axis":null}}},
 {"data":{"name":"teg"},"mark":{"type":"rule","strokeWidth":2.5},
  "encoding":{"x":{"datum":1,"type":"quantitative","axis":null},"x2":{"datum":2},"y":{"field":"r","type":"nominal","axis":null},
   "color":{"field":"g","type":"nominal","scale":{"domain":["Group A: i-6","Group B: i-6+m","Group C: i-7/8","Group D: i-7/8+m","Group E: i≤5"],"range":["#0000ff","#22bb22","#ff0000","#bf3fef","#000000"]},"legend":null}}},
 {"data":{"name":"teg"},"mark":{"type":"text","align":"left","fontSize":11.5},
  "encoding":{"x":{"datum":3,"type":"quantitative","axis":null},"y":{"field":"r","type":"nominal","axis":null},"text":{"field":"g","type":"nominal"}}},
 {"data":{"values":[{}]},"mark":{"type":"text","text":"Group","fontSize":12},
  "encoding":{"x":{"datum":3.5,"type":"quantitative","axis":null},"y":{"datum":"h2","type":"nominal","bandPosition":0,"axis":null}}},
 {"data":{"values":[{"c":6},{"c":9},{"c":12}]},"mark":{"type":"text","text":"P","align":"right","fontStyle":"italic","dx":-12,"fontSize":11.5},
  "encoding":{"x":{"field":"c","type":"quantitative","axis":null},"y":{"datum":"h2","type":"nominal","axis":null}}},
 {"data":{"values":[{"c":6},{"c":9},{"c":12}]},"mark":{"type":"text","text":"-value","align":"left","dx":-12,"fontSize":11.5},
  "encoding":{"x":{"field":"c","type":"quantitative","axis":null},"y":{"datum":"h2","type":"nominal","axis":null}}},
 {"data":{"name":"te"},"mark":{"type":"text","fontSize":11.7},
  "encoding":{"x":{"field":"c","type":"quantitative","axis":null},"y":{"field":"r","type":"nominal","axis":null},"text":{"field":"v","type":"nominal"}}}
]}
],
"resolve":{"scale":{"x":"independent","y":"independent","color":"independent"},"axis":{"x":"independent","y":"independent"},"legend":{"color":"independent"}}
}
